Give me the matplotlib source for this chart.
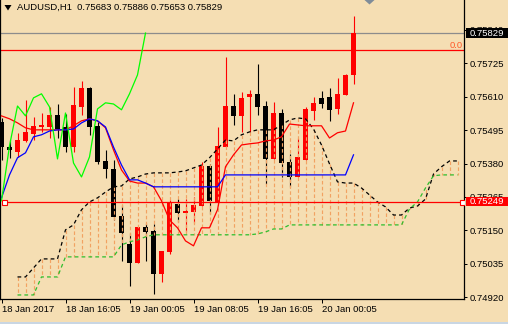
import numpy as np
import matplotlib
matplotlib.use("Agg")
import matplotlib.pyplot as plt
from matplotlib.patches import Rectangle, Polygon

# AUDUSD H1 candles (bar index 0..44)
opens = [0.75523, 0.75437, 0.75420, 0.75458, 0.75482, 0.75506, 0.75506, 0.75547, 0.75506, 0.75437,
         0.75575, 0.75640, 0.75510, 0.75389, 0.75362, 0.75200, 0.75104, 0.75038, 0.75162, 0.75148,
         0.75000, 0.75076, 0.75241, 0.75210, 0.75214, 0.75234, 0.75372, 0.75248, 0.75437, 0.75578,
         0.75544, 0.75609, 0.75620, 0.75578, 0.75396, 0.75554, 0.75386, 0.75334, 0.75393, 0.75561,
         0.75606, 0.75609, 0.75568, 0.75616, 0.75683]
highs = [0.75537, 0.75461, 0.75486, 0.75599, 0.75541, 0.75554, 0.75575, 0.75585, 0.75551, 0.75644,
         0.75664, 0.75642, 0.75523, 0.75427, 0.75393, 0.75238, 0.75142, 0.75162, 0.75176, 0.75172,
         0.75080, 0.75255, 0.75258, 0.75258, 0.75265, 0.75386, 0.75379, 0.75506, 0.75747, 0.75620,
         0.75627, 0.75633, 0.75723, 0.75596, 0.75592, 0.75568, 0.75413, 0.75468, 0.75575, 0.75609,
         0.75630, 0.75640, 0.75675, 0.75688, 0.75886]
lows = [0.75393, 0.75400, 0.75403, 0.75455, 0.75461, 0.75489, 0.75468, 0.75468, 0.75420, 0.75420,
        0.75547, 0.75479, 0.75379, 0.75331, 0.75186, 0.75045, 0.74959, 0.75038, 0.75045, 0.74932,
        0.74973, 0.75069, 0.75179, 0.75145, 0.75176, 0.75234, 0.75207, 0.75248, 0.75437, 0.75513,
        0.75489, 0.75489, 0.75547, 0.75310, 0.75396, 0.75334, 0.75300, 0.75334, 0.75393, 0.75530,
        0.75572, 0.75527, 0.75551, 0.75616, 0.75653]
closes = [0.75437, 0.75427, 0.75461, 0.75489, 0.75510, 0.75513, 0.75547, 0.75499, 0.75437, 0.75582,
          0.75640, 0.75506, 0.75386, 0.75362, 0.75196, 0.75142, 0.75038, 0.75162, 0.75145, 0.75000,
          0.75080, 0.75245, 0.75210, 0.75217, 0.75238, 0.75372, 0.75252, 0.75441, 0.75578, 0.75544,
          0.75606, 0.75620, 0.75575, 0.75396, 0.75554, 0.75382, 0.75334, 0.75403, 0.75568, 0.75589,
          0.75585, 0.75565, 0.75620, 0.75685, 0.75829]

# Ichimoku lines
tenkan = [0.75544, 0.75534, 0.75520, 0.75503, 0.75496, 0.75496, 0.75496, 0.75496, 0.75496, 0.75510,
          0.75527, 0.75534, 0.75527, 0.75503, 0.75427, 0.75358, 0.75320, 0.75313, 0.75313, 0.75300,
          0.75252, 0.75186, 0.75159, 0.75114, 0.75097, 0.75159, 0.75159, 0.75221, 0.75369, 0.75410,
          0.75444, 0.75448, 0.75451, 0.75458, 0.75461, 0.75472, 0.75516, 0.75513, 0.75510, 0.75510,
          0.75510, 0.75468, 0.75486, 0.75492, 0.75589]
kijun = [0.75262, 0.75341, 0.75400, 0.75417, 0.75472, 0.75479, 0.75492, 0.75496, 0.75496, 0.75499,
         0.75520, 0.75534, 0.75527, 0.75506, 0.75437, 0.75375, 0.75324, 0.75324, 0.75313, 0.75300,
         0.75300, 0.75300, 0.75300, 0.75300, 0.75300, 0.75300, 0.75300, 0.75300] + [0.75341] * 16 + [0.75410]
chikou_shift = 26

# cloud, bars 2..57 (shifted 26 ahead)
span_start = 2
senkou_a = [0.74990, 0.74990, 0.75021, 0.75052, 0.75052, 0.75052, 0.75152, 0.75169, 0.75221, 0.75248,
            0.75262, 0.75282, 0.75300, 0.75303, 0.75327, 0.75334, 0.75344, 0.75348, 0.75348, 0.75348,
            0.75351, 0.75355, 0.75365, 0.75375, 0.75400, 0.75430, 0.75461, 0.75458, 0.75479, 0.75489,
            0.75496, 0.75496, 0.75496, 0.75513, 0.75530, 0.75537, 0.75534, 0.75499, 0.75444, 0.75379,
            0.75317, 0.75313, 0.75313, 0.75296, 0.75272, 0.75248, 0.75231, 0.75203, 0.75203, 0.75227,
            0.75234, 0.75258, 0.75344, 0.75369, 0.75389, 0.75389]
senkou_b = ([0.74928] * 3 + [0.74990] * 3 + [0.75059] * 7 + [0.75100, 0.75111, 0.75117, 0.75128]
            + [0.75135] * 13 + [0.75138, 0.75145, 0.75155, 0.75155] + [0.75169] * 15
            + [0.75224, 0.75248, 0.75296, 0.75338] + [0.75341] * 3)

bid = 0.75829
fib_level = 0.75769
hline_level = 0.75249
y_ticks = [0.74920 + 0.00115 * i for i in range(9)]
x_tick_pos = [0, 8, 16, 24, 32, 40]
x_tick_labels = ["18 Jan 2017", "18 Jan 16:05", "19 Jan 00:05", "19 Jan 08:05",
                 "19 Jan 16:05", "20 Jan 00:05"]

W, H = 508, 324
BG = "#F5DEB3"
plt.rcParams["font.family"] = ["Liberation Sans", "DejaVu Sans"]
FS = 6.8

fig = plt.figure(figsize=(W / 100, H / 100), dpi=100, facecolor=BG)
ax = fig.add_axes([0, 25 / H, 464 / W, 299 / H], facecolor=BG)


def fx(px):
    return px / W


def fy(py):
    return 1 - py / H


idx = np.arange(len(opens))
o = np.array(opens)
c = np.array(closes)
up = c >= o
colors = np.where(up, "#FF0000", "#000000")
ax.vlines(idx, lows, highs, colors=colors, lw=0.8, zorder=2)
body_h = np.maximum(np.abs(c - o), 0.000034)
ax.bar(idx, body_h, bottom=np.minimum(o, c), width=0.625, color=colors, lw=0, zorder=2)

# cloud
sx = np.arange(span_start, span_start + len(senkou_a))
ax.vlines(sx, senkou_a, senkou_b, colors="#F2A262", lw=0.85, linestyles=(0, (3, 2)), zorder=3)
ax.plot(sx, senkou_a, color="black", lw=0.9, ls=(0, (3, 2.5)), zorder=4)
ax.plot(sx, senkou_b, color="#2DBE2D", lw=0.9, ls=(0, (3, 2.5)), zorder=4)

# tenkan / kijun / chikou
ax.plot(idx, tenkan, color="#FF0000", lw=0.9, zorder=5)
ax.plot(idx, kijun, color="#0000FF", lw=0.9, zorder=5)
ax.plot(idx[:len(closes) - chikou_shift], closes[chikou_shift:], color="#00FF00", lw=0.9, zorder=5)

# horizontal lines
ax.axhline(bid, color="#8C8C8C", lw=0.9, zorder=1)
ax.axhline(fib_level, color="#FF0000", lw=0.9, zorder=1)
ax.plot([0.25, 57.5], [hline_level, hline_level], color="#FF0000", lw=0.9, zorder=6)
ax.plot([0.25, 57.5], [hline_level, hline_level], ls="none", marker="s", ms=3.6,
        mfc="white", mec="#FF0000", mew=0.8, zorder=7)
ax.text(57.7, fib_level + 0.00003, "0.0", color="#FF5A2A", fontsize=FS, ha="right", va="bottom")

# shift half a pixel so that 1px marks sit on pixel centres
ax.set_xlim(-0.1875, 57.8125)
ax.set_ylim(0.749141, 0.759427)

ax.yaxis.tick_right()
ax.set_yticks(y_ticks)
ax.set_yticklabels([f"{v:.5f}" for v in y_ticks])
ax.set_xticks(x_tick_pos)
ax.set_xticklabels(x_tick_labels)
for lab in ax.get_xticklabels():
    lab.set_ha("left")
ax.tick_params(axis="y", direction="out", length=2.2, width=0.72, pad=2.2, labelsize=FS)
ax.tick_params(axis="x", direction="out", length=2.9, width=0.72, pad=1.5, labelsize=FS)
for side in ["left", "right", "bottom"]:
    ax.spines[side].set_linewidth(0.9)
ax.spines["top"].set_visible(False)

# title
fig.patches.append(Polygon([(fx(4.5), fy(5)), (fx(11.5), fy(5)), (fx(8), fy(10.5))],
                           closed=True, transform=fig.transFigure, fc="black", ec="none"))
fig.text(fx(17), fy(7.5), "AUDUSD,H1  0.75683 0.75886 0.75653 0.75829", fontsize=FS,
         ha="left", va="center", color="black")

# chart shift marker
fig.patches.append(Polygon([(fx(364.5), fy(0)), (fx(374.5), fy(0)), (fx(369.5), fy(4.5))],
                           closed=True, transform=fig.transFigure, fc="#7F8C99", ec="none"))

# price labels on the axis
fig.patches.append(Rectangle((fx(466), fy(37.5)), 42 / W, 9 / H, transform=fig.transFigure,
                             fc="black", ec="none", zorder=5))
fig.text(fx(470), fy(33.3), "0.75829", fontsize=FS, color="white", ha="left", va="center", zorder=6)
fig.patches.append(Rectangle((fx(466), fy(206)), 42 / W, 9.3 / H, transform=fig.transFigure,
                             fc="#FF0000", ec="none", zorder=5))
fig.text(fx(470), fy(201.5), "0.75249", fontsize=FS, color="white", ha="left", va="center", zorder=6)

# window bottom edge
fig.patches.append(Rectangle((0, 0), 1, 1.6 / H, transform=fig.transFigure, fc="#C9D6E3", ec="none"))

fig.savefig("out.png", dpi=100, facecolor=BG)
